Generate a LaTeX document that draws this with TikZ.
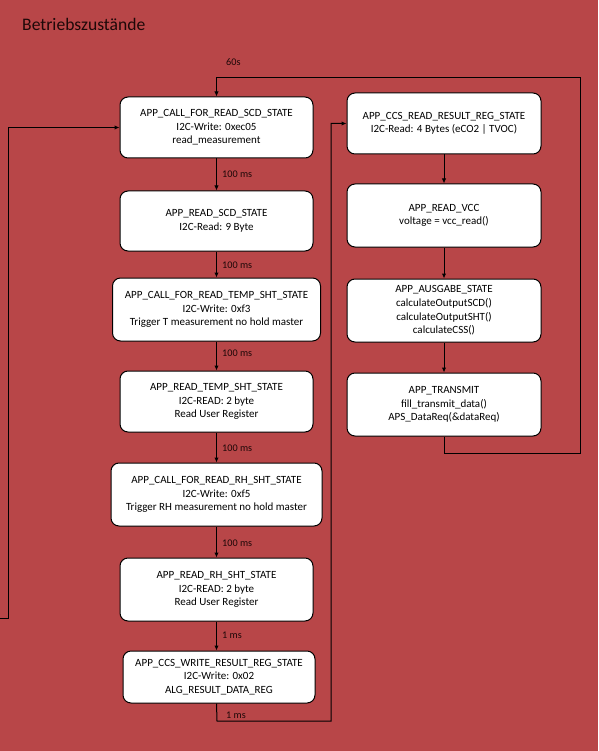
\documentclass[tikz,border=0pt]{standalone}
\usepackage{fontspec}
\setmainfont{Carlito}
\usetikzlibrary{arrows.meta}
\definecolor{bgred}{RGB}{184,70,72}
\definecolor{titlecol}{RGB}{30,8,8}
\begin{document}
\begin{tikzpicture}[x=1pt,y=-1pt,
  box/.style={draw=black,line width=1pt,fill=white,rounded corners=8pt,inner sep=0pt,
    align=center,font=\fontsize{11}{13.6}\selectfont},
  arr/.style={draw=black,line width=1pt,-{Latex[length=5pt,width=4.5pt]}},
  conn/.style={draw=black,line width=1pt},
  lbl/.style={font=\fontsize{10.2}{12}\selectfont,text=titlecol,inner sep=0pt}]
\fill[bgred] (0,0) rectangle (598,751);
\useasboundingbox (0,0) rectangle (598,751);
\node[anchor=west,font=\fontsize{17.6}{20}\selectfont,text=titlecol,inner sep=0pt] (title) at (22,24) {Betriebszustände};
% left column
\node[box,minimum width=193pt,minimum height=61pt] (b1) at (216.5,127.5) {APP\_CALL\_FOR\_READ\_SCD\_STATE\\I2C-Write: 0xec05\\read\_measurement};
\node[box,minimum width=193pt,minimum height=60pt] (b2) at (216.5,221) {APP\_READ\_SCD\_STATE\\I2C-Read: 9 Byte};
\node[box,minimum width=208pt,minimum height=63pt] (b3) at (216.5,309.5) {APP\_CALL\_FOR\_READ\_TEMP\_SHT\_STATE\\I2C-Write: 0xf3\\Trigger T measurement no hold master};
\node[box,minimum width=193pt,minimum height=61pt] (b4) at (216.5,401.5) {APP\_READ\_TEMP\_SHT\_STATE\\I2C-READ: 2 byte\\Read User Register};
\node[box,minimum width=211pt,minimum height=63pt] (b5) at (216.5,494.5) {APP\_CALL\_FOR\_READ\_RH\_SHT\_STATE\\I2C-Write: 0xf5\\Trigger RH measurement no hold master};
\node[box,minimum width=193pt,minimum height=63pt] (b6) at (216.5,589.5) {APP\_READ\_RH\_SHT\_STATE\\I2C-READ: 2 byte\\Read User Register};
\node[box,minimum width=192pt,minimum height=52pt] (b7) at (219,677) {APP\_CCS\_WRITE\_RESULT\_REG\_STATE\\I2C-Write: 0x02\\ALG\_RESULT\_DATA\_REG};
% right column
\node[box,minimum width=194pt,minimum height=61pt] (r1) at (444,123.5) {APP\_CCS\_READ\_RESULT\_REG\_STATE\\I2C-Read: 4 Bytes (eCO2 | TVOC)};
\node[box,minimum width=194pt,minimum height=63pt] (r2) at (444,215.5) {APP\_READ\_VCC\\voltage = vcc\_read()};
\node[box,minimum width=194pt,minimum height=63pt] (r3) at (444,310.5) {APP\_AUSGABE\_STATE\\calculateOutputSCD()\\calculateOutputSHT()\\calculateCSS()};
\node[box,minimum width=194pt,minimum height=63pt] (r4) at (444,404.5) {APP\_TRANSMIT\\fill\_transmit\_data()\\APS\_DataReq(\&dataReq)};
% left column arrows
\draw[arr] (b1.south) -- (b1.south |- b2.north);
\draw[arr] (b2.south) -- (b2.south |- b3.north);
\draw[arr] (b3.south) -- (b3.south |- b4.north);
\draw[arr] (b4.south) -- (b4.south |- b5.north);
\draw[arr] (b5.south) -- (b5.south |- b6.north);
\draw[arr] (b6.south) -- (b6.south |- b7.north);
\node[lbl,anchor=west] (l1) at (222,174) {100 ms};
\node[lbl,anchor=west] (l2) at (222,265) {100 ms};
\node[lbl,anchor=west] (l3) at (222,353) {100 ms};
\node[lbl,anchor=west] (l4) at (222,448) {100 ms};
\node[lbl,anchor=west] (l5) at (222,543) {100 ms};
\node[lbl,anchor=west] (l6) at (222,635) {1 ms};
% right column arrows
\draw[arr] (r1.south) -- (r2.north);
\draw[arr] (r2.south) -- (r3.north);
\draw[arr] (r3.south) -- (r4.north);
% loops
\coordinate (la) at (0,618);
\coordinate (lb) at (8,618);
\draw[arr] (la) -- (lb) |- (b1.west);
\coordinate (ma) at (217,721);
\coordinate (mb) at (331,721);
\draw[arr] (b6.south |- b7.south) -- (ma) -- (mb) |- (r1.west);
\node[lbl,anchor=west] (l7) at (226,715) {1 ms};
\coordinate (ta) at (580,453);
\coordinate (tb) at (580,78);
\draw[arr] (r4.south) |- (ta) -- (tb) -| (b1.north);
\node[lbl,anchor=west] (l8) at (226,62) {60s};
\end{tikzpicture}
\end{document}
